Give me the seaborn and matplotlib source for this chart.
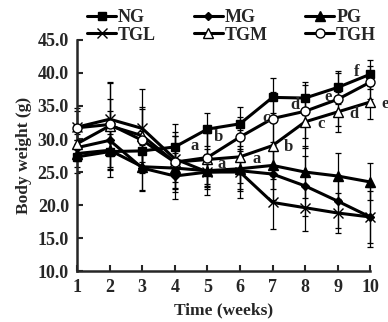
# %% libraries
import matplotlib
matplotlib.use('Agg')
import matplotlib.pyplot as plt
import seaborn as sns
import pandas as pd

# %% data
weeks = [1, 2, 3, 4, 5, 6, 7, 8, 9, 10]
groups = ['NG', 'MG', 'PG', 'TGL', 'TGM', 'TGH']

ng = [27.3, 28.1, 28.2, 28.8, 31.5, 32.3, 36.3, 36.2, 37.8, 39.8]
mg = [28.7, 29.8, 25.6, 24.4, 25.0, 25.2, 24.7, 22.9, 20.6, 18.2]
pg = [27.8, 28.3, 25.8, 25.6, 25.2, 25.5, 26.0, 25.0, 24.4, 23.5]
tgl = [31.8, 33.0, 31.6, 27.0, 25.0, 25.0, 20.4, 19.6, 18.8, 18.2]
tgm = [29.3, 32.0, 30.5, 26.5, 26.9, 27.3, 29.0, 32.6, 34.1, 35.6]
tgh = [31.7, 32.2, 29.8, 26.5, 27.2, 30.3, 33.1, 34.2, 36.0, 38.6]

ng_sd = [2.5, 2.7, 3.0, 3.5, 2.5, 2.5, 3.0, 2.5, 2.5, 2.2]
mg_sd = [2.0, 4.5, 3.5, 3.5, 2.5, 3.0, 4.0, 4.5, 4.0, 4.0]
pg_sd = [2.0, 4.0, 3.5, 3.0, 2.5, 3.0, 3.5, 4.0, 3.5, 2.8]
tgl_sd = [2.5, 5.5, 6.0, 3.5, 3.5, 4.0, 4.0, 3.5, 3.0, 4.5]
tgm_sd = [2.0, 4.0, 4.0, 4.5, 4.0, 4.0, 5.0, 4.0, 3.0, 2.5]
tgh_sd = [3.0, 6.5, 5.0, 4.0, 4.0, 3.0, 4.0, 4.0, 4.0, 2.5]

# significance letters: (week, weight, letter)
letters = [(4.6, 28.9, 'a'), (5.45, 26.2, 'a'), (6.5, 27.0, 'a'),
           (5.35, 30.3, 'b'), (7.5, 28.8, 'b'), (6.8, 33.2, 'c'),
           (8.5, 32.3, 'c'), (7.7, 35.1, 'd'), (9.5, 33.8, 'd'),
           (8.7, 36.4, 'e'), (10.45, 35.3, 'e'), (9.6, 40.1, 'f')]

values = [ng, mg, pg, tgl, tgm, tgh]
sds = [ng_sd, mg_sd, pg_sd, tgl_sd, tgm_sd, tgh_sd]

df = pd.DataFrame({
    'week': weeks * len(groups),
    'weight': sum(values, []),
    'sd': sum(sds, []),
    'group': [g for g in groups for _ in weeks],
})

# %% style
sns.set_style('ticks')
plt.rcParams['font.family'] = ['Liberation Serif', 'DejaVu Serif']
plt.rcParams['font.weight'] = 'bold'

markers = {'NG': ('s', 'black', 5.5), 'MG': ('D', 'black', 4.5),
           'PG': ('^', 'black', 6.5), 'TGL': ('x', 'black', 7),
           'TGM': ('^', 'white', 6.5), 'TGH': ('o', 'white', 6.5)}

# %% figure
fig = plt.figure(figsize=(3.88, 3.22), dpi=100)
ax = fig.add_axes([0.199, 0.158, 0.755, 0.718])

for g in groups:
    sub = df[df['group'] == g]
    ax.errorbar(sub['week'], sub['weight'], yerr=sub['sd'], fmt='none',
                ecolor='black', elinewidth=0.9, capsize=2.5, capthick=0.9,
                zorder=2, clip_on=False)

for g in groups:
    sub = df[df['group'] == g]
    m, fc, ms = markers[g]
    sns.lineplot(data=sub, x='week', y='weight', ax=ax, color='black',
                 lw=2.2, marker=m, markersize=ms, markerfacecolor=fc,
                 markeredgecolor='black', markeredgewidth=1.0,
                 label=g, zorder=3, clip_on=False)

for x, y, t in letters:
    ax.text(x, y, t, fontsize=12, fontweight='bold', ha='center',
            va='center')

# axes
ax.set_xlim(1, 10)
ax.set_ylim(10, 45)
ax.set_xticks(weeks)
ax.set_yticks([10, 15, 20, 25, 30, 35, 40, 45])
ax.set_yticklabels(['%.1f' % v for v in [10, 15, 20, 25, 30, 35, 40, 45]])
ax.tick_params(direction='in', length=4, width=1.5, labelsize=13,
               pad=6)
ax.set_xlabel('Time (weeks)', fontsize=12.5, fontweight='bold')
ax.set_ylabel('Body weight (g)', fontsize=12.5, fontweight='bold')
for s in ['top', 'right']:
    ax.spines[s].set_visible(False)
for s in ['left', 'bottom']:
    ax.spines[s].set_linewidth(1.8)

# legend, row-wise order
h, l = ax.get_legend_handles_labels()
order = [0, 3, 1, 4, 2, 5]
ax.legend([h[i] for i in order], [l[i] for i in order],
          loc='upper left', bbox_to_anchor=(0.197, 1.005),
          bbox_transform=fig.transFigure, ncol=3, frameon=False,
          handlelength=1.6, handletextpad=0.1,
          columnspacing=2.1, labelspacing=0.02, borderpad=0.1,
          prop={'weight': 'bold', 'size': 13})

plt.savefig('out.png', dpi=100)
